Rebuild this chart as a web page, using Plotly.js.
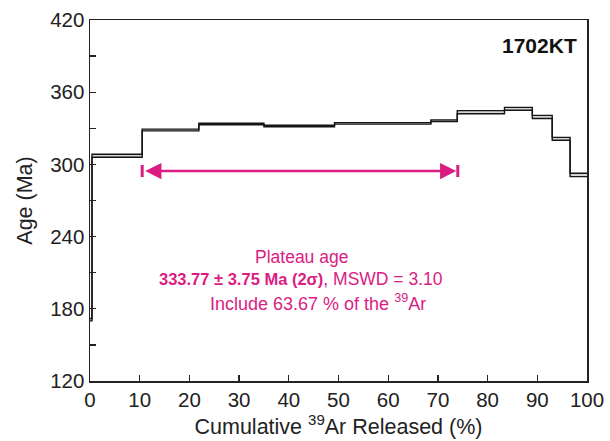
<!DOCTYPE html>
<html>
<head>
<meta charset="utf-8">
<script src="https://cdn.plot.ly/plotly-3.0.1.min.js"></script>
<style>html,body{margin:0;padding:0;background:#fff;}#chart{width:610px;height:441px;}</style>
</head>
<body>
<div id="chart"></div>
<script>
// Cumulative 39Ar released (%) step boundaries
const cumulative = [0, 0.4, 10.5, 21.9, 35.0, 49.2, 68.6, 73.9, 83.4, 89.0, 93.0, 96.6, 100];
// Apparent age (Ma) per step
const ages = [171.0, 307.2, 328.6, 333.6, 331.9, 334.1, 336.3, 343.4, 346.2, 339.4, 321.3, 291.2];
// Error (Ma) per step
const errors = [1.0, 1.2, 0.7, 0.6, 0.6, 0.6, 0.7, 1.3, 1.2, 1.3, 1.2, 1.4];
// Plateau range (%)
const plateauRange = [10.5, 74.0];
const sampleName = "1702KT";
const xTicks = [0,10,20,30,40,50,60,70,80,90,100];
const yTicks = [120,180,240,300,360,420];

const upper = ages.map((a,i)=>a+errors[i]);
const lower = ages.map((a,i)=>a-errors[i]);
upper.push(upper[upper.length-1]);
lower.push(lower[lower.length-1]);

const magenta = '#DA1C83';
const font = 'Liberation Sans, Arial, sans-serif';

const traces = [
  {x: cumulative, y: lower, mode:'lines', line:{shape:'hv', color:'#151515', width:1.4}, hoverinfo:'skip', showlegend:false},
  {x: cumulative, y: upper, mode:'lines', line:{shape:'hv', color:'#151515', width:1.4}, fill:'tonexty', fillcolor:'#d4d4d4', hoverinfo:'skip', showlegend:false}
];

const arrowAge = 294.5;
const pxToAge = p => 420-(p-20)/1.2033;
const layout = {
  width:610, height:441,
  margin:{l:90, r:23, t:20, b:60},
  paper_bgcolor:'#fff', plot_bgcolor:'#fff',
  font:{family:font, color:'#222', size:20},
  xaxis:{range:[0,100], tickvals:xTicks, ticks:'inside', ticklen:6, tickwidth:1.3, tickcolor:'#222',
    showline:true, linecolor:'#222', linewidth:1.5, mirror:true, showgrid:false, zeroline:false,
    tickfont:{size:20.5, family:font, color:'#222'},
    title:{text:'Cumulative <sup>39</sup>Ar Released (%)', font:{size:21.5, family:font, color:'#222'}, standoff:3}},
  yaxis:{range:[120,420], tickvals:yTicks, ticks:'inside', ticklen:6, tickwidth:1.3, tickcolor:'#222',
    minor:{dtick:30, ticks:'inside', ticklen:6, tickwidth:1.3, tickcolor:'#222', showgrid:false},
    showline:true, linecolor:'#222', linewidth:1.5, mirror:true, showgrid:false, zeroline:false,
    tickfont:{size:20.5, family:font, color:'#222'},
    title:{text:'Age (Ma)', font:{size:21.5, family:font, color:'#222'}, standoff:11}},
  shapes:[
    {type:'line', xref:'x', yref:'y', x0:plateauRange[0], x1:plateauRange[0], y0:arrowAge-5, y1:arrowAge+5, line:{color:magenta, width:3}},
    {type:'line', xref:'x', yref:'y', x0:plateauRange[1], x1:plateauRange[1], y0:arrowAge-5, y1:arrowAge+5, line:{color:magenta, width:3}}
  ],
  annotations:[
    {x:plateauRange[1]-0.3, y:arrowAge, ax:plateauRange[0]+0.3, ay:arrowAge, xref:'x', yref:'y', axref:'x', ayref:'y',
     text:'', showarrow:true, arrowhead:2, arrowside:'end+start', arrowsize:1.3, arrowwidth:2.5, arrowcolor:magenta},
    {x:(301-90)/4.97, y:pxToAge(257), xref:'x', yref:'y', text:'Plateau age', showarrow:false,
     font:{size:17.5, family:font, color:magenta}},
    {x:(301-90)/4.97, y:pxToAge(279), xref:'x', yref:'y', text:'<b style="font-size:16.5px">333.77 ± 3.75 Ma (2σ)</b>, MSWD = 3.10', showarrow:false,
     font:{size:17.5, family:font, color:magenta}},
    {x:(318-90)/4.97, y:pxToAge(302), xref:'x', yref:'y', text:'Include 63.67 % of the <sup>39</sup>Ar', showarrow:false,
     font:{size:18, family:font, color:magenta}},
    {x:(539-90)/4.97, y:pxToAge(45), xref:'x', yref:'y', text:'<b>'+sampleName+'</b>', showarrow:false,
     font:{size:21, family:font, color:'#111'}}
  ]
};

Plotly.newPlot('chart', traces, layout, {displayModeBar:false, staticPlot:true});
</script>
</body>
</html>
